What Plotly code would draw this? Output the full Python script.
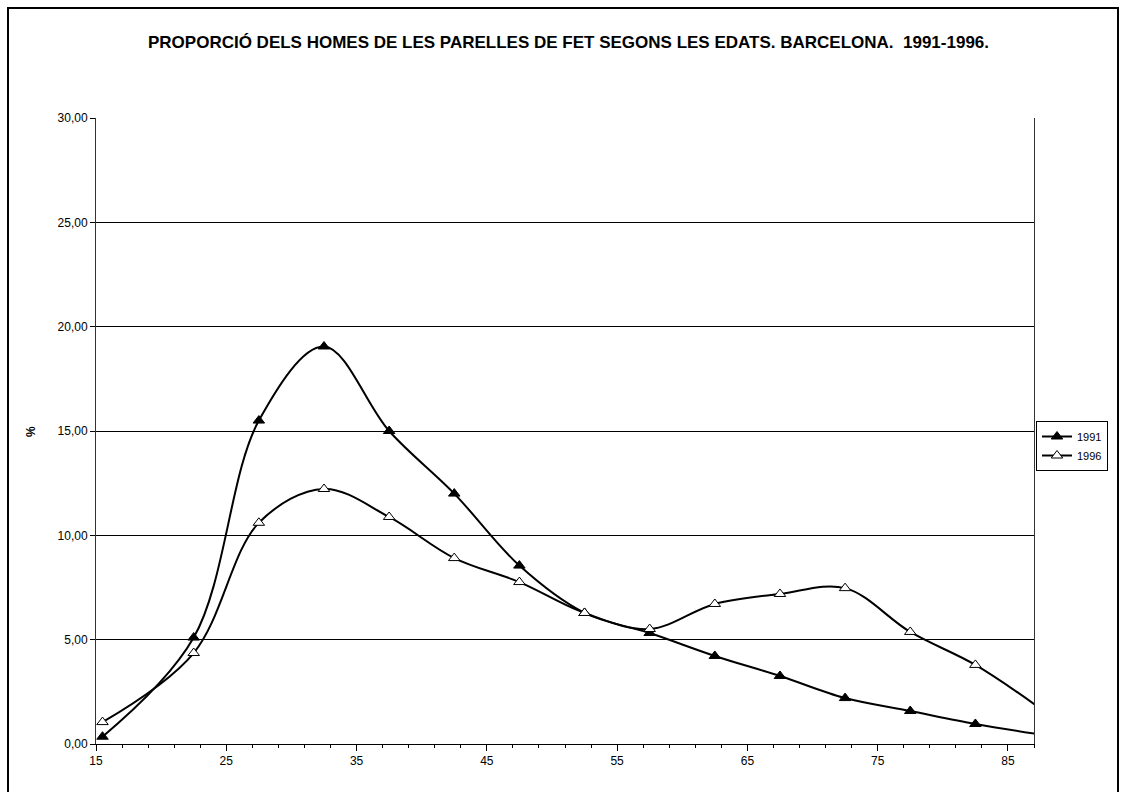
import plotly.graph_objects as go

ages = [15.5, 22.5, 27.5, 32.5, 37.5, 42.5, 47.5, 52.5, 57.5, 62.5, 67.5, 72.5, 77.5, 82.5, 87.5]
v1991 = [0.35, 5.10, 15.50, 19.05, 15.00, 12.00, 8.55, 6.28, 5.32, 4.22, 3.26, 2.20, 1.58, 0.96, 0.45]
v1996 = [1.05, 4.36, 10.60, 12.22, 10.88, 8.91, 7.76, 6.28, 5.51, 6.71, 7.19, 7.47, 5.37, 3.79, 1.70]
x_labels = [15, 25, 35, 45, 55, 65, 75, 85]
y_ticks = [0, 5, 10, 15, 20, 25, 30]

FONT = "Liberation Sans, Arial, sans-serif"

fig = go.Figure()
fig.add_trace(go.Scatter(
    x=ages, y=v1991, name="1991", mode="lines+markers",
    line=dict(color="black", width=2, shape="spline", smoothing=1.0),
    marker=dict(symbol="triangle-up", size=10, color="black", line=dict(color="black", width=1)),
))
fig.add_trace(go.Scatter(
    x=ages, y=v1996, name="1996", mode="lines+markers",
    line=dict(color="black", width=2, shape="spline", smoothing=1.0),
    marker=dict(symbol="triangle-up", size=10, color="white", line=dict(color="black", width=1)),
))

L, R, T, B = 96, 92, 118, 48
W, H = 1126, 792
pw, ph = W - L - R, H - T - B

def px_x(px):
    return (px - L) / pw

def px_y(py):
    return (H - B - py) / ph

fig.update_layout(
    width=W, height=H,
    margin=dict(l=L, r=R, t=T, b=B),
    paper_bgcolor="white", plot_bgcolor="white",
    separators=", ",
    font=dict(family=FONT, size=12, color="black"),
    showlegend=True,
    legend=dict(
        x=px_x(1036), y=px_y(446), xanchor="left", yanchor="middle",
        bordercolor="black", borderwidth=1, bgcolor="white",
        font=dict(family=FONT, size=11, color="black"),
        itemwidth=30, tracegroupgap=0,
    ),
    xaxis=dict(
        range=[15, 87], tickmode="array", tickvals=x_labels,
        ticks="outside", ticklen=6, tickcolor="black", tickwidth=1,
        minor=dict(tick0=15, dtick=2, ticks="outside", ticklen=3, tickcolor="black", tickwidth=1),
        showline=True, linecolor="black", linewidth=1,
        showgrid=False, zeroline=False,
        tickfont=dict(family=FONT, size=12, color="black"),
    ),
    xaxis2=dict(
        range=[15, 87], overlaying="x", anchor="y", side="bottom",
        tick0=15, dtick=2, ticks="inside", ticklen=4, tickcolor="black",
        showticklabels=False, showline=False, showgrid=False, zeroline=False,
    ),
    yaxis=dict(
        range=[0, 30], tickmode="array", tickvals=y_ticks, tickformat=".2f",
        ticks="outside", ticklen=5, tickcolor="black",
        showline=True, linecolor="#333", linewidth=1, mirror=True,
        showgrid=True, gridcolor="black", gridwidth=1, zeroline=False,
        tickfont=dict(family=FONT, size=12, color="black"),
    ),
    annotations=[
        dict(text="<b>PROPORCIÓ DELS HOMES DE LES PARELLES DE FET SEGONS LES EDATS. BARCELONA.  1991-1996.</b>",
             xref="paper", yref="paper", x=px_x(568), y=px_y(43), xanchor="center", yanchor="middle",
             showarrow=False, font=dict(family=FONT, size=17, color="black")),
        dict(text="<b>%</b>", xref="paper", yref="paper", x=px_x(31), y=px_y(432),
             xanchor="center", yanchor="middle", textangle=-90, showarrow=False,
             font=dict(family=FONT, size=12, color="black")),
    ],
    shapes=[
        dict(type="rect", xref="paper", yref="paper",
             x0=px_x(8), x1=px_x(1118), y0=px_y(830), y1=px_y(8),
             line=dict(color="black", width=2), fillcolor="rgba(0,0,0,0)", layer="below"),
    ],
)

fig.write_html("out.html", config={"displayModeBar": False},
               post_script="document.body.style.margin='0';document.body.style.overflow='hidden';")
